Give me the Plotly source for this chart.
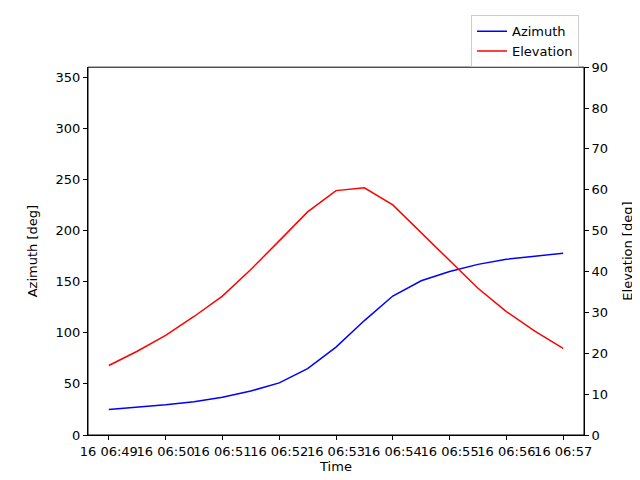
import pandas as pd
import plotly.graph_objects as go

times = pd.date_range('2024-01-16 06:49:00', '2024-01-16 06:57:00', freq='30s')
azimuth = [25, 27, 29.5, 32.5, 37, 43, 51, 65, 86, 112, 136, 151, 160, 167, 172, 175, 178]
elevation = [17, 20.5, 24.4, 29, 34, 40.5, 47.5, 54.6, 59.8, 60.5, 56.3, 49.5, 42.7, 35.9, 30.2, 25.4, 21.2]

tick_times = pd.date_range('2024-01-16 06:49:00', '2024-01-16 06:57:00', freq='1min')
tick_text = ['16 ' + t.strftime('%H:%M') for t in tick_times]

fig = go.Figure()
fig.add_trace(go.Scatter(x=times, y=azimuth, name='Azimuth', mode='lines',
                         line=dict(color='blue', width=1.5)))
fig.add_trace(go.Scatter(x=times, y=elevation, name='Elevation', mode='lines',
                         line=dict(color='red', width=1.5), yaxis='y2'))

axis_style = dict(showline=True, linecolor='black', mirror=False, ticks='outside',
                  ticklen=4, tickcolor='black', showgrid=False, zeroline=False,
                  automargin=False, tickfont=dict(size=13))
fig.update_layout(
    width=640, height=480,
    plot_bgcolor='white', paper_bgcolor='white',
    font=dict(family='DejaVu Sans', size=13, color='black'),
    margin=dict(l=80, r=64, t=58, b=53),
    xaxis=dict(title=dict(text='Time', standoff=2, font=dict(size=13)), tickvals=tick_times,
               ticktext=tick_text, tickangle=0,
               range=[times[0] - pd.Timedelta(seconds=22), times[-1] + pd.Timedelta(seconds=22)],
               **axis_style),
    yaxis=dict(title=dict(text='Azimuth [deg]', font=dict(size=13)), range=[0, 360],
               tickvals=list(range(0, 351, 50)), **axis_style),
    yaxis2=dict(title=dict(text='Elevation [deg]', font=dict(size=13)), range=[0, 90],
                overlaying='y', side='right', tickvals=list(range(0, 91, 10)), **axis_style),
    legend=dict(x=0.99, y=0.985, xref='paper', yref='container', xanchor='right', yanchor='top',
                bordercolor='#cccccc', borderwidth=1, bgcolor='white',
                tracegroupgap=0, itemwidth=30, font=dict(size=13)),
    showlegend=True,
)
fig.add_shape(type='rect', xref='paper', yref='paper', x0=0, x1=1, y0=0, y1=1,
              line=dict(color='black', width=1))
fig.write_html('out.html')
